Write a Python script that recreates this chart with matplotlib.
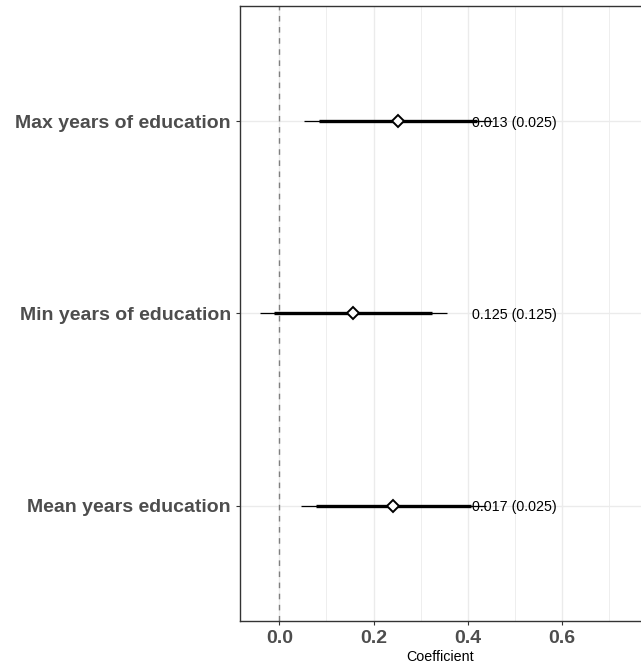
import numpy as np
import matplotlib
matplotlib.use("Agg")
import matplotlib.pyplot as plt
from matplotlib.ticker import MultipleLocator

plt.rcParams['font.family'] = ['Liberation Sans', 'DejaVu Sans']

terms = ["Mean years education", "Min years of education", "Max years of education"]
estimate = [0.242, 0.157, 0.252]
ci_outer_lo = [0.045, -0.042, 0.052]
ci_outer_hi = [0.439, 0.355, 0.452]
ci_inner_lo = [0.078, -0.011, 0.085]
ci_inner_hi = [0.406, 0.323, 0.419]
labels = ["0.017 (0.025)", "0.125 (0.125)", "0.013 (0.025)"]

fig = plt.figure(figsize=(6.41, 6.65), dpi=100)
ax = fig.add_axes([0.3744, 0.0662, 0.6256, 0.9248])

y = np.arange(1, len(terms) + 1)

ax.set_xlim(-0.0834, 0.767)
ax.set_ylim(0.4, 3.6)
ax.xaxis.set_major_locator(MultipleLocator(0.2))
ax.xaxis.set_minor_locator(MultipleLocator(0.1))
ax.set_axisbelow(True)
ax.grid(True, which='major', color='#EBEBEB', lw=1.0)
ax.grid(True, which='minor', axis='x', color='#EBEBEB', lw=0.6)
ax.axvline(0, color='#7F7F7F', ls=(0, (4, 4)), lw=1.0, zorder=2)

ax.hlines(y, ci_outer_lo, ci_outer_hi, color='black', lw=0.9, zorder=3)
ax.hlines(y, ci_inner_lo, ci_inner_hi, color='black', lw=2.4, zorder=3)
ax.plot(estimate, y, ls='none', marker='D', ms=6.5, mfc='white', mec='black',
        mew=1.4, zorder=4)
for yi, lab in zip(y, labels):
    ax.text(0.408, yi, lab, ha='left', va='center_baseline', fontsize=10.3,
            color='black', zorder=5)

ax.set_yticks(y)
ax.set_yticklabels(terms)
ax.set_xticks([0.0, 0.2, 0.4, 0.6])
ax.set_xticklabels(["0.0", "0.2", "0.4", "0.6"])
for t in ax.get_yticklabels() + ax.get_xticklabels():
    t.set_fontsize(14)
    t.set_fontweight('bold')
    t.set_color('#4D4D4D')
ax.tick_params(axis='both', which='major', color='#333333', length=3, width=0.8)
ax.tick_params(axis='x', which='minor', length=0)
ax.set_xlabel("Coefficient", fontsize=10.3, labelpad=2)

for s in ['left', 'top', 'bottom']:
    ax.spines[s].set_color('#333333')
    ax.spines[s].set_linewidth(1.0)
ax.spines['right'].set_visible(False)

fig.savefig("out.png", dpi=100)
